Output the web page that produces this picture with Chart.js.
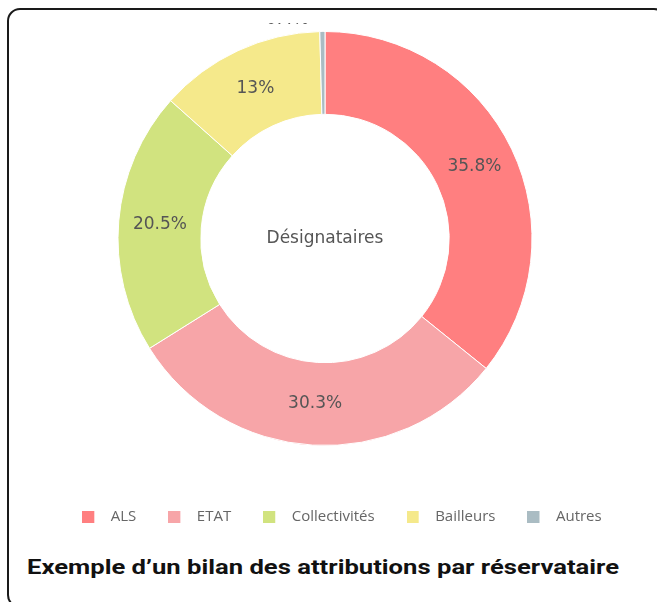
<!DOCTYPE html>
<html lang="fr">
<head>
<meta charset="utf-8">
<title>Bilan des attributions</title>
<script src="https://cdn.jsdelivr.net/npm/chart.js@4.4.0/dist/chart.umd.min.js"></script>
<style>
    html, body { margin: 0; padding: 0; background: #fff; }
    body { width: 657px; height: 602px; position: relative; overflow: hidden; }
    .card {
        position: absolute; left: 7px; top: 8px;
        width: 660px; height: 600px;
        border: 2px solid #1a1a1a; border-radius: 13px;
        box-sizing: border-box;
    }
    .chart-box { position: absolute; left: 0; top: 23px; width: 650px; height: 510px; }
    .caption {
        position: absolute; left: 27px; top: 555px;
        font-family: Roboto, sans-serif; font-weight: 700; font-size: 21px;
        line-height: normal; color: #111; white-space: nowrap;
        transform: scaleX(1.22); transform-origin: left center;
    }
</style>
</head>
<body>
<div class="card"></div>
<div class="chart-box"><canvas id="attributionsChart"></canvas></div>
<div class="caption">Exemple d’un bilan des attributions par réservataire</div>

<script>
// Données du graphique
const categories = ['ALS', 'ETAT', 'Collectivités', 'Bailleurs', 'Autres'];
const parts = [35.8, 30.3, 20.5, 13, 0.4];
const couleurs = ['#FF7F80', '#F7A5A8', '#D1E37F', '#F5E98B', '#AABCC3'];
const titreCentre = 'Désignataires';

/**
 * Carré de légende suivi d'un espace
 */
function legendSquare(color) {
    const c = document.createElement('canvas');
    c.width = 21;
    c.height = 12;
    const g = c.getContext('2d');
    g.fillStyle = color;
    g.fillRect(0, 0, 12, 12);
    return c;
}

/**
 * Pourcentages et texte central
 */
const labelsPlugin = {
    id: 'sliceLabels',
    afterDatasetsDraw(chart) {
        const ctx = chart.ctx;
        const meta = chart.getDatasetMeta(0);
        ctx.save();
        ctx.font = '17px "DejaVu Sans", sans-serif';
        ctx.fillStyle = '#555';
        ctx.textBaseline = 'middle';
        meta.data.forEach(function(arc, i) {
            const txt = parts[i] + '%';
            if (parts[i] < 2) {
                // petite part : étiquette au-dessus de l'anneau (coupée par le bord)
                ctx.textAlign = 'right';
                ctx.fillText(txt, arc.x - 16, arc.y - arc.outerRadius - 12);
                return;
            }
            const p = arc.tooltipPosition();
            ctx.textAlign = 'center';
            ctx.fillText(txt, p.x, p.y);
        });
        const a = meta.data[0];
        ctx.textAlign = 'center';
        ctx.fillText(titreCentre, a.x, a.y);
        ctx.restore();
    }
};

/**
 * Décale la légende (plus bas, un peu à droite)
 */
const legendShift = {
    id: 'legendShift',
    afterLayout(chart) {
        const lg = chart.legend;
        if (!lg) return;
        lg.top += 31;
        lg.bottom += 31;
        lg.left += 17;
        lg.right += 17;
    }
};

document.addEventListener('DOMContentLoaded', function() {
    const ctx = document.getElementById('attributionsChart');

    new Chart(ctx, {
        type: 'doughnut',
        data: {
            labels: categories,
            datasets: [{
                data: parts,
                backgroundColor: couleurs,
                borderColor: '#fff',
                borderWidth: 1,
                hoverOffset: 0
            }]
        },
        options: {
            responsive: true,
            maintainAspectRatio: false,
            animation: false,
            cutout: '60%',
            layout: { padding: { top: 8, bottom: 30 } },
            plugins: {
                tooltip: { enabled: false },
                legend: {
                    position: 'bottom',
                    labels: {
                        usePointStyle: true,
                        pointStyleWidth: 21,
                        padding: 32,
                        color: '#666',
                        font: { family: '"Open Sans", sans-serif', size: 15 },
                        generateLabels: function(chart) {
                            return categories.map(function(name, i) {
                                return {
                                    text: name,
                                    fillStyle: couleurs[i],
                                    strokeStyle: couleurs[i],
                                    lineWidth: 0,
                                    pointStyle: legendSquare(couleurs[i]),
                                    fontColor: '#666',
                                    hidden: false,
                                    index: i
                                };
                            });
                        }
                    }
                }
            }
        },
        plugins: [labelsPlugin, legendShift]
    });
});
</script>
</body>
</html>
